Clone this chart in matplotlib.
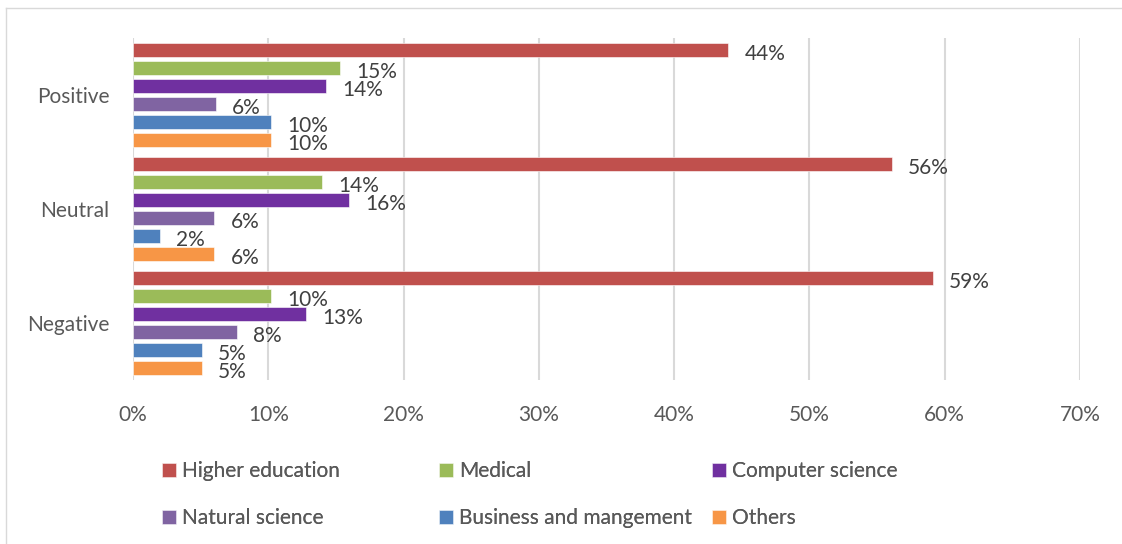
import numpy as np
import matplotlib.pyplot as plt
from matplotlib.lines import Line2D

plt.rcParams['font.family'] = ['Lato', 'DejaVu Sans']

categories = ["Positive", "Neutral", "Negative"]
series = ["Higher education", "Medical", "Computer science",
          "Natural science", "Business and mangement", "Others"]
higher_education = [44.0, 56.1, 59.1]
medical = [15.3, 14.0, 10.2]
computer_science = [14.3, 16.0, 12.8]
natural_science = [6.1, 6.0, 7.7]
business = [10.2, 2.0, 5.1]
others = [10.2, 6.0, 5.1]
colors = ["#C0504D", "#9BBB59", "#7030A0", "#8064A2", "#4F81BD", "#F79646"]

values = [higher_education, medical, computer_science, natural_science, business, others]

fig = plt.figure(figsize=(11.22, 5.44), dpi=100)
ax = fig.add_axes([133/1122, 1 - 380/544, (1080 - 133)/1122, (380 - 38)/544])

pitch = 18/114
height = 14/114
y = np.arange(len(categories))
handles = []
for j, (name, vals) in enumerate(zip(series, values)):
    pos = y + (j - 2.5)*pitch
    b = ax.barh(pos, vals, height=height, color=colors[j], label=name,
                edgecolor="white", linewidth=0.4)
    handles.append(b)
    for p, v in zip(pos, vals):
        ax.text(v + 1.2, p + 0.035, f"{v:.0f}%", va="center", ha="left",
                fontsize=15, color="#404040")

ax.set_xlim(0, 70)
ax.set_ylim(2.5, -0.5)
ax.set_xticks(np.arange(0, 71, 10))
ax.set_xticklabels([f"{t}%" for t in range(0, 71, 10)])
ax.set_yticks(y)
ax.set_yticklabels(categories)
ax.tick_params(axis="both", length=0, labelsize=15, labelcolor="#595959")
ax.tick_params(axis="x", pad=18)
ax.tick_params(axis="y", pad=17)
ax.grid(axis="x", color="#D9D9D9", linewidth=1.5)
ax.set_axisbelow(True)
for s in ax.spines.values():
    s.set_visible(False)

# legend: three columns placed like the original
col_x = [162, 439, 712]
for k in range(3):
    leg = fig.legend([handles[k], handles[k + 3]], [series[k], series[k + 3]],
                     loc="upper left", bbox_to_anchor=(col_x[k]/1122, 1 - 461/544),
                     frameon=False, fontsize=15, labelcolor="#595959",
                     handlelength=0.65, handleheight=0.65, handletextpad=0.3,
                     labelspacing=1.3, borderpad=0, borderaxespad=0)
    fig.add_artist(leg)

fig.add_artist(Line2D([6/1122, 1], [1 - 8/544, 1 - 8/544], color="#D9D9D9", linewidth=1))
fig.add_artist(Line2D([6/1122, 6/1122], [0, 1 - 8/544], color="#D9D9D9", linewidth=1))

plt.savefig("out.png", dpi=100)
